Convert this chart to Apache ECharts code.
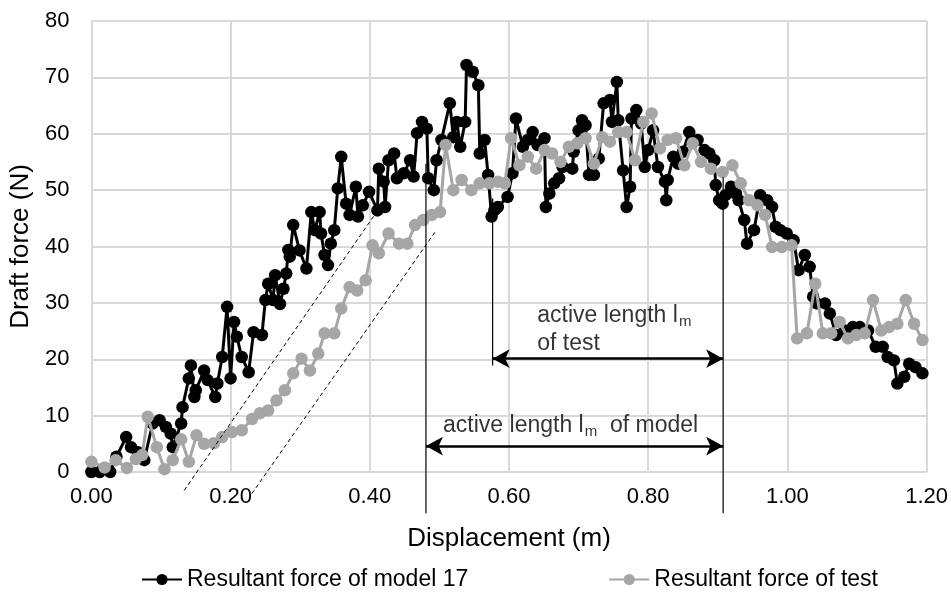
<!DOCTYPE html>
<html><head><meta charset="utf-8">
<script src="https://cdn.jsdelivr.net/npm/echarts@6/dist/echarts.min.js"></script>
<style>html,body{margin:0;padding:0;background:#fff}#c{width:951px;height:596px}</style>
</head><body><div id="c"></div><script>
// ---- data ----
const seriesNames = ['Resultant force of model 17', 'Resultant force of test'];

const modelX = [0.000,0.012,0.027,0.036,0.050,0.057,0.067,0.076,0.088,0.098,0.107,0.114,0.117,0.129,0.131,0.140,0.143,0.148,0.150,0.162,0.167,0.178,0.181,0.188,0.195,0.200,0.205,0.209,0.216,0.226,0.233,0.245,0.250,0.254,0.261,0.264,0.271,0.276,0.280,0.283,0.285,0.290,0.299,0.309,0.316,0.321,0.328,0.330,0.335,0.340,0.344,0.349,0.354,0.359,0.366,0.371,0.380,0.383,0.390,0.399,0.411,0.413,0.420,0.422,0.427,0.435,0.439,0.449,0.458,0.463,0.468,0.475,0.482,0.484,0.492,0.496,0.503,0.515,0.520,0.525,0.530,0.537,0.539,0.548,0.556,0.558,0.565,0.570,0.575,0.579,0.584,0.598,0.605,0.610,0.620,0.627,0.634,0.641,0.651,0.653,0.658,0.665,0.672,0.677,0.691,0.693,0.700,0.705,0.710,0.715,0.722,0.729,0.736,0.745,0.748,0.755,0.757,0.764,0.769,0.774,0.776,0.783,0.790,0.795,0.800,0.807,0.814,0.824,0.826,0.828,0.836,0.843,0.850,0.859,0.871,0.881,0.888,0.895,0.897,0.902,0.907,0.911,0.919,0.926,0.930,0.938,0.942,0.952,0.961,0.971,0.978,0.983,0.990,0.999,1.009,1.016,1.025,1.032,1.037,1.042,1.054,1.061,1.070,1.082,1.094,1.104,1.116,1.127,1.137,1.144,1.153,1.158,1.168,1.175,1.184,1.194];
const modelY = [0,0,0,2.7,6.2,4.4,3.5,2.1,8.6,9.2,8.0,6.8,4.4,8.6,11.5,16.6,18.9,13.3,14.5,18.0,16.3,13.3,15.7,20.4,29.3,16.6,26.6,24.0,20.4,17.7,24.8,24.3,30.5,33.4,30.5,34.9,29.8,32.5,35.2,39.4,38.2,43.8,39.3,36.1,46.1,42.9,46.1,42.3,38.5,36.7,40.5,42.9,50.3,55.9,47.6,45.6,50.6,45.3,47.3,49.7,46.4,53.8,51.5,47.0,55.3,56.5,52.1,53.0,55.3,52.4,60.1,62.1,60.9,52.1,50.0,55.3,58.9,65.4,59.4,62.1,57.7,62.1,72.2,71.0,68.6,56.5,58.9,52.7,45.3,46.4,47.0,48.8,53.0,62.7,57.7,58.9,60.3,58.0,59.2,47.0,49.4,51.2,52.1,54.1,53.8,56.8,60.6,62.4,61.5,52.7,52.7,55.6,65.4,66.0,62.1,69.2,62.4,53.5,47.0,50.6,62.7,64.2,61.8,54.1,57.1,60.6,54.1,51.5,48.2,51.8,55.9,54.7,56.8,60.3,58.9,57.1,56.5,55.3,50.9,48.2,47.6,49.1,50.6,49.4,48.2,44.7,40.5,42.9,49.1,48.2,47.0,43.5,42.9,42.3,41.1,35.8,38.5,36.4,31.1,29.9,29.9,28.1,24.3,25.1,25.7,25.7,25.1,22.2,22.2,20.4,19.8,15.7,16.9,19.2,18.6,17.5];

const testX = [0.000,0.019,0.035,0.051,0.064,0.073,0.081,0.094,0.105,0.117,0.129,0.140,0.151,0.162,0.176,0.188,0.202,0.216,0.231,0.242,0.254,0.266,0.278,0.290,0.302,0.314,0.326,0.335,0.349,0.359,0.371,0.382,0.394,0.404,0.413,0.427,0.442,0.454,0.465,0.477,0.489,0.501,0.509,0.520,0.532,0.546,0.558,0.572,0.584,0.594,0.603,0.615,0.627,0.639,0.651,0.662,0.674,0.686,0.698,0.710,0.722,0.734,0.745,0.757,0.769,0.781,0.793,0.805,0.817,0.828,0.840,0.852,0.864,0.876,0.890,0.907,0.921,0.933,0.945,0.957,0.968,0.978,0.992,1.006,1.014,1.028,1.040,1.051,1.063,1.075,1.087,1.099,1.111,1.123,1.135,1.146,1.158,1.170,1.182,1.194];
const testY = [1.8,0.8,2.1,0.7,2.3,3.0,9.8,4.4,0.5,2.1,5.8,1.8,6.5,5.0,5.1,6.2,7.1,7.4,9.4,10.4,10.9,12.7,14.5,17.5,20.1,18.0,21.0,24.6,24.6,29.0,32.8,32.2,34.0,40.2,38.8,42.3,40.5,40.5,43.8,44.7,45.6,46.1,58.0,50.0,51.8,50.0,51.2,51.2,51.5,51.2,59.2,54.4,55.9,53.8,57.1,56.5,55.0,57.7,58.3,59.2,54.7,59.4,58.6,60.3,60.3,55.3,62.1,63.6,57.4,58.9,59.2,54.4,58.3,55.0,53.8,53.2,54.4,51.2,48.2,47.3,45.6,39.9,39.9,40.2,23.7,24.6,33.4,24.6,24.6,26.6,23.7,24.3,24.6,30.5,25.1,25.7,26.3,30.5,26.3,23.4];

// annotation geometry in data units (displacement m, force N)
const activeStartModel = 0.4807;
const activeStartTest = 0.5765;
const activeEnd = 0.9077;
const arrowTestForce = 20.1;
const arrowModelForce = 4.6;
const guideLine1 = [[0.1334, -3.25], [0.4085, 45.9]];
const guideLine2 = [[0.2306, -3.83], [0.4940, 42.6]];

const FONT = "'Liberation Sans', Arial, Helvetica, sans-serif";
const pairs = (xs, ys) => xs.map((x, i) => [x, ys[i]]);

const thin = (data, extra) => Object.assign({
  type: 'line', data, symbol: 'none', silent: true, clip: false, z: 6,
  lineStyle: { color: '#000', width: 1.2 }, tooltip: { show: false }
}, extra || {});

const rich = {
  t: { fontSize: 23, color: '#000', fontFamily: FONT, lineHeight: 28 },
  s: { fontSize: 15, color: '#000', fontFamily: FONT, lineHeight: 28, verticalAlign: 'bottom', padding: [0, 0, 0, 1] }
};

const chart = echarts.init(document.getElementById('c'), null, { renderer: 'canvas' });
chart.setOption({
  animation: false,
  backgroundColor: '#fff',
  textStyle: { fontFamily: FONT },
  grid: { left: 88, right: 20, top: 21, bottom: 124 },
  xAxis: {
    type: 'value', min: 0, max: 1.2, interval: 0.2,
    name: 'Displacement (m)', nameLocation: 'middle', nameGap: 54,
    nameTextStyle: { fontSize: 26, color: '#000', fontFamily: FONT },
    axisLine: { show: true, lineStyle: { color: '#d9d9d9', width: 2 } },
    axisTick: { show: false },
    axisLabel: { fontSize: 22, color: '#000', margin: 14, formatter: v => v.toFixed(2), fontFamily: FONT },
    splitLine: { show: true, lineStyle: { color: '#d9d9d9', width: 2 } }
  },
  yAxis: {
    type: 'value', min: 0, max: 80, interval: 10,
    name: 'Draft force (N)', nameLocation: 'middle', nameGap: 52,
    nameTextStyle: { fontSize: 26, color: '#000', fontFamily: FONT },
    axisLine: { show: true, lineStyle: { color: '#d9d9d9', width: 2 } },
    axisTick: { show: false },
    axisLabel: { fontSize: 22, color: '#000', margin: 22, fontFamily: FONT },
    splitLine: { show: true, lineStyle: { color: '#d9d9d9', width: 2 } }
  },
  legend: {
    data: seriesNames, bottom: 0, left: 136,
    itemWidth: 40, itemHeight: 14, itemGap: 140,
    textStyle: { fontSize: 23, color: '#000', fontFamily: FONT }
  },
  series: [
    {
      name: seriesNames[0], type: 'line', data: pairs(modelX, modelY),
      symbol: 'circle', symbolSize: 12.5, showSymbol: true, z: 3,
      lineStyle: { color: '#000', width: 3 }, itemStyle: { color: '#000' }
    },
    {
      name: seriesNames[1], type: 'line', data: pairs(testX, testY),
      symbol: 'circle', symbolSize: 12.5, showSymbol: true, z: 4,
      lineStyle: { color: '#a6a6a6', width: 3 }, itemStyle: { color: '#a6a6a6' }
    },
    thin([[activeStartModel, -7.3], [activeStartModel, 54.7]]),
    thin([[activeStartTest, 18.9], [activeStartTest, 48.5]]),
    thin([[activeEnd, -7.3], [activeEnd, 52.3]]),
    thin(guideLine1, { lineStyle: { color: '#000', width: 1, type: [4, 3] } }),
    thin(guideLine2, { lineStyle: { color: '#000', width: 1, type: [4, 3] } }),
    {
      type: 'scatter', symbolSize: 0, silent: true, z: 7,
      data: [
        { value: [0.6406, 25.3], label: { formatter: '{t|active length l}{s|m}\n{t|of test}' } },
        { value: [0.5053, 8.3], label: { formatter: '{t|active length l}{s|m}{t|  of model}' } }
      ],
      label: { show: true, position: 'right', distance: 0, align: 'left', rich },
      markLine: {
        silent: true, symbol: ['arrow', 'arrow'], symbolSize: [14, 17],
        label: { show: false },
        lineStyle: { color: '#000', width: 2.5, type: 'solid' },
        emphasis: { disabled: true },
        data: [
          [{ coord: [activeStartTest, arrowTestForce] }, { coord: [activeEnd, arrowTestForce] }],
          [{ coord: [activeStartModel, arrowModelForce] }, { coord: [activeEnd, arrowModelForce] }]
        ]
      }
    }
  ]
});
</script></body></html>
